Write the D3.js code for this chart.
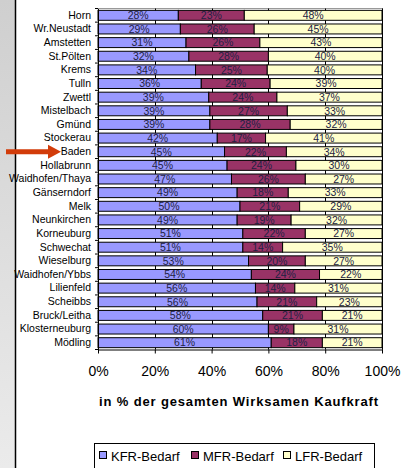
<!DOCTYPE html>
<html>
<head>
<meta charset="utf-8">
<script src="https://cdn.jsdelivr.net/npm/d3@7"></script>
<style>
  body { margin: 0; background: #fff; }
  svg { display: block; font-family: "Liberation Sans", Arial, sans-serif; }
</style>
</head>
<body>
<div id="chart"></div>
<script>
// Data
const towns = ['Horn', 'Wr.Neustadt', 'Amstetten', 'St.Pölten', 'Krems', 'Tulln', 'Zwettl',
  'Mistelbach', 'Gmünd', 'Stockerau', 'Baden', 'Hollabrunn', 'Waidhofen/Thaya', 'Gänserndorf',
  'Melk', 'Neunkirchen', 'Korneuburg', 'Schwechat', 'Wieselburg', 'Waidhofen/Ybbs',
  'Lilienfeld', 'Scheibbs', 'Bruck/Leitha', 'Klosterneuburg', 'Mödling'];
const kfr = [28, 29, 31, 32, 34, 36, 39, 39, 39, 42, 45, 45, 47, 49, 50, 49, 51, 51, 53, 54, 56, 56, 58, 60, 61];
const mfr = [23, 26, 26, 28, 25, 24, 24, 27, 28, 17, 22, 24, 26, 18, 21, 19, 22, 14, 20, 24, 14, 21, 21, 9, 18];
const lfr = [48, 45, 43, 40, 40, 39, 37, 33, 32, 41, 34, 30, 27, 33, 29, 32, 27, 35, 27, 22, 31, 23, 21, 31, 21];
const series = ['KFR-Bedarf', 'MFR-Bedarf', 'LFR-Bedarf'];
const ticks = [0, 0.2, 0.4, 0.6, 0.8, 1];
const marked = 'Baden';

const chart_width = 403;
const chart_height = 468;
const colors = ['#9999ff', '#993366', '#ffffcc'];

const rows = towns.map((t, i) => ({ town: t, 'KFR-Bedarf': kfr[i], 'MFR-Bedarf': mfr[i], 'LFR-Bedarf': lfr[i] }));

// Stack, normalised to 100%
const stack_data = d3.stack()
  .keys(series)
  .offset(d3.stackOffsetExpand)(rows);

// Scales
const x_scale = d3.scaleLinear().domain([0, 1]).range([98, 382]);
const y_scale = d3.scaleBand()
  .domain(towns)
  .range([8.5, 349.5])
  .paddingInner(0.27)
  .paddingOuter(0.135);

const svg = d3.select('#chart')
  .append('svg')
  .attr('width', chart_width)
  .attr('height', chart_height);

// Grey side strip
const grad = svg.append('defs').append('linearGradient')
  .attr('id', 'side').attr('x1', 0).attr('y1', 0).attr('x2', 0).attr('y2', 1);
grad.append('stop').attr('offset', 0).attr('stop-color', '#cfcfcf');
grad.append('stop').attr('offset', 1).attr('stop-color', '#ebebeb');
svg.append('rect').attr('x', 0).attr('y', 0).attr('width', 15).attr('height', chart_height)
  .attr('fill', 'url(#side)');
svg.append('line').attr('x1', 15.5).attr('x2', 15.5).attr('y1', 0).attr('y2', chart_height)
  .attr('stroke', '#000').attr('stroke-width', 1.5);

// Plot frame + gridlines
svg.append('line')
  .attr('x1', x_scale(0)).attr('x2', x_scale(1))
  .attr('y1', 8.5).attr('y2', 8.5)
  .attr('stroke', '#999');
svg.append('g')
  .selectAll('line')
  .data(ticks.slice(1))
  .join('line')
  .attr('x1', d => Math.round(x_scale(d)) + 0.5)
  .attr('x2', d => Math.round(x_scale(d)) + 0.5)
  .attr('y1', 8.5).attr('y2', 349.5)
  .attr('stroke', '#000');

// Bars
const groups = svg.selectAll('g.series')
  .data(stack_data)
  .join('g')
  .attr('class', 'series')
  .attr('fill', (d, i) => colors[i]);

groups.selectAll('rect')
  .data(d => d)
  .join('rect')
  .attr('x', d => x_scale(d[0]))
  .attr('y', d => y_scale(d.data.town))
  .attr('width', d => x_scale(d[1]) - x_scale(d[0]))
  .attr('height', y_scale.bandwidth())
  .attr('stroke', '#000')
  .attr('stroke-width', 1);

// Segment labels
groups.each(function (s) {
  d3.select(this).selectAll('text')
    .data(s)
    .join('text')
    .attr('x', d => (x_scale(d[0]) + x_scale(d[1])) / 2)
    .attr('y', d => y_scale(d.data.town) + y_scale.bandwidth() / 2 + 3.8)
    .attr('text-anchor', 'middle')
    .attr('font-size', 10.5)
    .attr('fill', '#222244')
    .text(d => d.data[s.key] + '%');
});

// Y axis
const y_axis = svg.append('g')
  .attr('transform', `translate(${x_scale(0)},0)`)
  .call(d3.axisLeft(y_scale).tickSize(0).tickPadding(7));
y_axis.select('.domain').attr('stroke', '#000');
y_axis.selectAll('text')
  .attr('font-size', 10.5)
  .attr('fill', '#000')
  .attr('font-family', '"Liberation Sans", Arial, sans-serif');

// small ticks between categories
const step = y_scale.step();
const first_edge = y_scale(towns[0]) - (step - y_scale.bandwidth()) / 2;
svg.append('g')
  .selectAll('line')
  .data(d3.range(towns.length + 1))
  .join('line')
  .attr('x1', x_scale(0) - 3).attr('x2', x_scale(0))
  .attr('y1', i => first_edge + i * step)
  .attr('y2', i => first_edge + i * step)
  .attr('stroke', '#000');

// Right border
svg.append('line')
  .attr('x1', x_scale(1) + 0.5).attr('x2', x_scale(1) + 0.5)
  .attr('y1', 8.5).attr('y2', 349.5)
  .attr('stroke', '#000');

// X axis
const x_axis = svg.append('g')
  .attr('transform', 'translate(0,349.5)')
  .call(d3.axisBottom(x_scale).tickValues(ticks).tickFormat(d3.format('.0%')).tickSizeInner(4).tickSizeOuter(0).tickPadding(13));
x_axis.select('.domain').attr('stroke', '#000');
x_axis.selectAll('line').attr('stroke', '#000');
x_axis.selectAll('text')
  .attr('font-size', 14)
  .attr('fill', '#000')
  .attr('font-family', '"Liberation Sans", Arial, sans-serif');

// Axis title
svg.append('text')
  .attr('x', 239)
  .attr('y', 406)
  .attr('text-anchor', 'middle')
  .attr('font-size', 13)
  .attr('font-weight', 'bold')
  .attr('letter-spacing', 0.85)
  .text('in % der gesamten Wirksamen Kaufkraft');

// Arrow pointing at the marked town
const ay = y_scale(marked) + y_scale.bandwidth() / 2;
svg.append('path')
  .attr('d', `M6,${ay - 2.5} L48,${ay - 2.5} L48,${ay - 7} L61,${ay} L48,${ay + 7} L48,${ay + 2.5} L6,${ay + 2.5} Z`)
  .attr('fill', '#d23c0a');

// Legend
const legend = svg.append('g');
legend.append('rect')
  .attr('x', 94.5).attr('y', 443.5)
  .attr('width', 280).attr('height', 30)
  .attr('fill', '#fff').attr('stroke', '#000');
const legend_x = [99, 191, 283];
const items = legend.selectAll('g')
  .data(series)
  .join('g')
  .attr('transform', (d, i) => `translate(${legend_x[i]},451)`);
items.append('rect')
  .attr('x', 0.5).attr('y', 0.5)
  .attr('width', 7).attr('height', 7)
  .attr('fill', (d, i) => colors[i])
  .attr('stroke', '#000');
items.append('text')
  .attr('x', 12)
  .attr('y', 9.5)
  .attr('font-size', 13)
  .text(d => d);
</script>
</body>
</html>
